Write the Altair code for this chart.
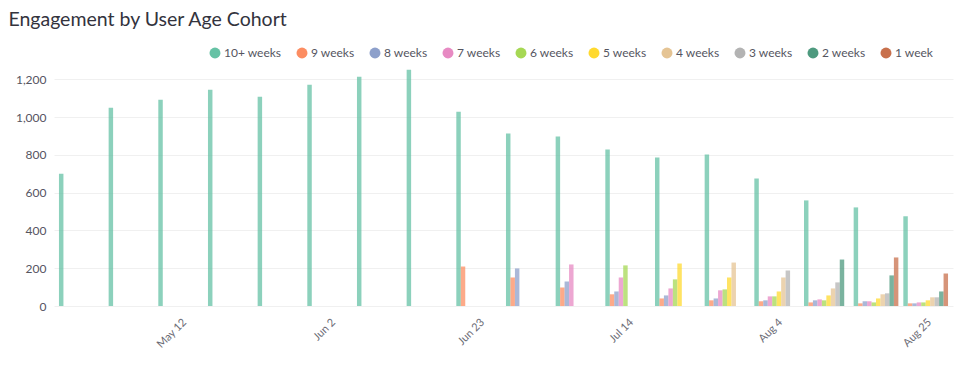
import altair as alt
import pandas as pd

weeks = ["Apr 28", "May 5", "May 12", "May 19", "May 26", "Jun 2", "Jun 9", "Jun 16",
         "Jun 23", "Jun 30", "Jul 7", "Jul 14", "Jul 21", "Jul 28", "Aug 4", "Aug 11",
         "Aug 18", "Aug 25"]
shown_ticks = ["May 12", "Jun 2", "Jun 23", "Jul 14", "Aug 4", "Aug 25"]
cohorts = ["10+ weeks", "9 weeks", "8 weeks", "7 weeks", "6 weeks", "5 weeks",
           "4 weeks", "3 weeks", "2 weeks", "1 week"]
colors = ["#66c2a5", "#fc8d62", "#8da0cb", "#e78ac3", "#a6d854", "#ffd92f",
          "#e5c494", "#b3b3b3", "#4e9a7f", "#c8704c"]

w10 = [700, 1050, 1092, 1145, 1108, 1171, 1214, 1251, 1029, 913, 897, 828, 786, 802, 675, 559, 522, 475]
w9 = [None] * 8 + [209, 151, 98, 62, 40, 30, 25, 19, 14, 14]
w8 = [None] * 9 + [199, 130, 77, 56, 40, 30, 30, 25, 14]
w7 = [None] * 10 + [220, 151, 93, 83, 51, 35, 25, 19]
w6 = [None] * 11 + [215, 141, 88, 51, 30, 19, 19]
w5 = [None] * 12 + [225, 151, 77, 56, 40, 30]
w4 = [None] * 13 + [230, 151, 93, 62, 46]
w3 = [None] * 14 + [188, 125, 67, 46]
w2 = [None] * 15 + [246, 162, 77]
w1 = [None] * 16 + [257, 172]

series = [w10, w9, w8, w7, w6, w5, w4, w3, w2, w1]
rows = []
for cohort, vals in zip(cohorts, series):
    for wk, v in zip(weeks, vals):
        if v is not None:
            rows.append({"week": wk, "cohort": cohort, "value": v})
df = pd.DataFrame(rows)

FONT = "Lato"

chart = alt.Chart(df).mark_bar(opacity=0.75).encode(
    x=alt.X("week:N", sort=weeks,
            scale=alt.Scale(domain=weeks, paddingInner=0.1, paddingOuter=0.1),
            axis=alt.Axis(title=None, values=shown_ticks, labelAngle=-45,
                          ticks=False, domain=False, labelPadding=10,
                          labelFontSize=11, labelColor="#6b6b75", labelFont=FONT)),
    xOffset=alt.XOffset("cohort:N", sort=cohorts,
                        scale=alt.Scale(domain=cohorts, paddingInner=0, paddingOuter=0)),
    y=alt.Y("value:Q", scale=alt.Scale(domain=[0, 1260], nice=False),
            axis=alt.Axis(title=None, values=[0, 200, 400, 600, 800, 1000, 1200],
                          format=",.0f", ticks=False, domain=False, labelPadding=8,
                          labelFontSize=12, labelColor="#55555f", labelFont=FONT,
                          gridColor="#f0f0f0", gridWidth=1)),
    color=alt.Color("cohort:N", sort=cohorts,
                    scale=alt.Scale(domain=cohorts, range=colors),
                    legend=alt.Legend(title=None, orient="none", direction="horizontal",
                                      legendX=155, legendY=-21,
                                      symbolType="circle", symbolSize=120,
                                      symbolStrokeWidth=0, symbolOpacity=1,
                                      labelFontSize=12, labelColor="#55555f",
                                      labelFont=FONT, labelOffset=3,
                                      columnPadding=14)),
).properties(
    width=899,
    height=238,
    title=alt.TitleParams("Engagement by User Age Cohort", anchor="start",
                          frame="bounds", fontSize=19.5, fontWeight="normal",
                          font=FONT, color="#33333d", dx=-7, offset=17),
    padding={"left": 0, "top": 1, "right": 5, "bottom": 5},
).configure_view(stroke=None)

chart.save("out.html", embed_options={"renderer": "svg", "actions": False})
